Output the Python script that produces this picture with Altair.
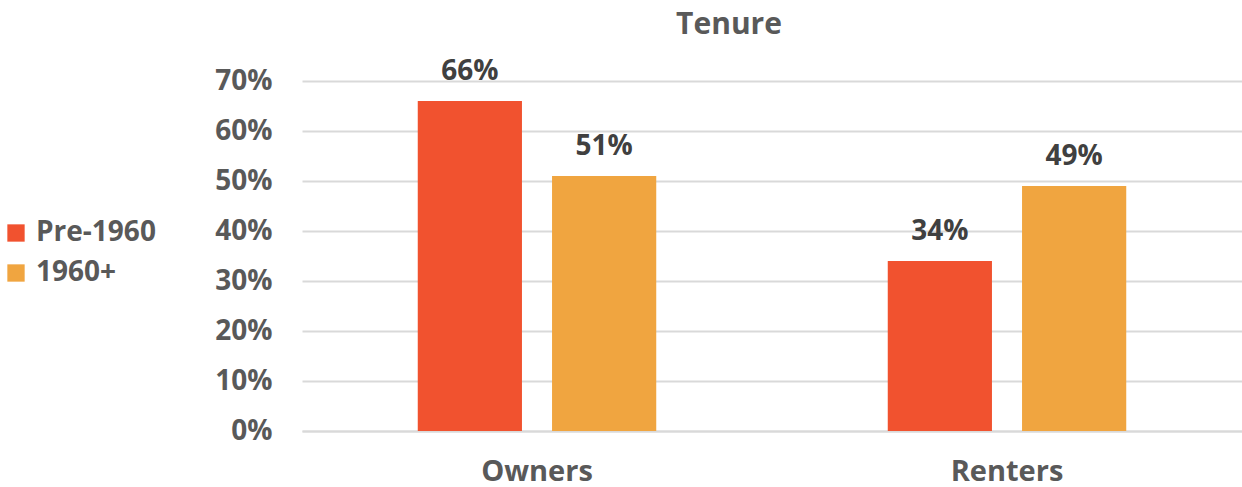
import altair as alt
import pandas as pd

categories = ["Owners", "Owners", "Renters", "Renters"]
series = ["Pre-1960", "1960+", "Pre-1960", "1960+"]
values = [0.66, 0.51, 0.34, 0.49]
labels = ["66%", "51%", "34%", "49%"]

df = pd.DataFrame({"cat": categories, "series": series, "value": values, "label": labels})

FONT = "Open Sans"
TXT = "#595959"

x = alt.X("cat:N", sort=["Owners", "Renters"],
          scale=alt.Scale(paddingInner=0, paddingOuter=0),
          axis=alt.Axis(title=None, labelAngle=0, labelFontSize=29, labelFont=FONT,
                        labelFontWeight="bold", labelColor=TXT, labelPadding=26,
                        ticks=False, domainColor="#D9D9D9", domainWidth=2))
xo = alt.XOffset("series:N", sort=["Pre-1960", "1960+"],
                 scale=alt.Scale(paddingInner=0.224, paddingOuter=0.862))
y = alt.Y("value:Q",
          scale=alt.Scale(domain=[0, 0.7], nice=False),
          axis=alt.Axis(title=None, format=".0%", values=[0, .1, .2, .3, .4, .5, .6, .7],
                        labelFontSize=28, labelFont=FONT, labelFontWeight="bold",
                        labelColor=TXT, labelPadding=30, ticks=False, domain=False,
                        gridColor="#D9D9D9", gridWidth=2))
color = alt.Color("series:N", sort=["Pre-1960", "1960+"],
                  scale=alt.Scale(domain=["Pre-1960", "1960+"], range=["#F1522F", "#F0A540"]),
                  legend=alt.Legend(title=None, orient="none", legendX=-300, legendY=138,
                                    symbolType="square", symbolSize=300, symbolStrokeWidth=0,
                                    labelFontSize=28, labelFont=FONT, labelFontWeight="bold",
                                    labelColor=TXT, rowPadding=12, labelOffset=6))

bars = alt.Chart(df).mark_bar().encode(x=x, xOffset=xo, y=y, color=color)
text = alt.Chart(df).mark_text(baseline="bottom", dy=-15, fontSize=28, font=FONT,
                               fontWeight="bold", color="#404040").encode(
    x=x, xOffset=xo, y=y, text="label:N")

chart = (bars + text).properties(
    width=940, height=350,
    title=alt.TitleParams("Tenure", fontSize=30, font=FONT, fontWeight="bold",
                          color=TXT, offset=18, dx=-43),
    padding={"left": 302, "top": 81, "right": 0, "bottom": 56},
    autosize=alt.AutoSizeParams(type="none"),
).configure_view(stroke=None)

chart.save("out.html", embed_options={"renderer": "svg", "actions": False})
